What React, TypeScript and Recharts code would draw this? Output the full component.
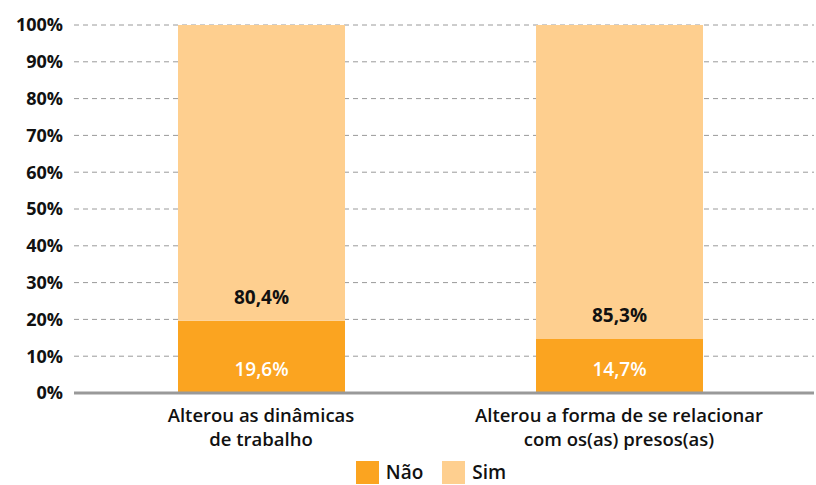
import React from 'react';
import { BarChart, Bar, XAxis, YAxis, CartesianGrid, Legend, LabelList } from 'recharts';

const categories = ['Alterou as dinâmicas|de trabalho', 'Alterou a forma de se relacionar|com os(as) presos(as)'];
const naoValues = [19.6, 14.7];
const simValues = [80.4, 85.3];
const yTicks = [0, 10, 20, 30, 40, 50, 60, 70, 80, 90, 100];

const NAO_COLOR = '#FBA420';
const SIM_COLOR = '#FECF8F';
const FONT = '"Open Sans", "Noto Sans", sans-serif';

const data = categories.map((name, i) => ({
  name,
  nao: naoValues[i],
  sim: simValues[i],
}));

const fmt = (v: number) => `${v.toFixed(1).replace('.', ',')}%`;

function CategoryTick(props: any) {
  const { x, y, payload } = props;
  const lines = String(payload.value).split('|');
  return (
    <g transform={`translate(${x},${y})`}>
      {lines.map((line, i) => (
        <text
          key={i}
          x={0}
          y={21 + i * 24}
          textAnchor="middle"
          fill="#111"
          fontSize={18.5}
          fontWeight={600}
          fontFamily={FONT}
        >
          {line}
        </text>
      ))}
    </g>
  );
}

// labels sit a fixed distance above the bottom of each segment
function SegmentLabel(color: string, weight: number) {
  return (props: any) => {
    const { x, y, width, height, value } = props;
    return (
      <text
        x={x + width / 2}
        y={y + height - 17}
        textAnchor="middle"
        fill={color}
        fontSize={19}
        fontWeight={weight}
        fontFamily={FONT}
      >
        {fmt(value)}
      </text>
    );
  };
}

function LegendContent() {
  const items = [
    { label: 'Não', color: NAO_COLOR },
    { label: 'Sim', color: SIM_COLOR },
  ];
  return (
    <div style={{ display: 'flex', justifyContent: 'center', gap: 19, paddingLeft: 48, fontFamily: FONT, fontSize: 19, fontWeight: 600, color: '#111' }}>
      {items.map((it) => (
        <div key={it.label} style={{ display: 'flex', alignItems: 'center' }}>
          <span style={{ display: 'inline-block', width: 23, height: 23, background: it.color, marginRight: 7 }} />
          <span>{it.label}</span>
        </div>
      ))}
    </div>
  );
}

export default function App() {
  return (
    <div style={{ position: 'absolute', left: 0, top: 0, background: '#fff' }}>
      <BarChart
        width={816}
        height={485}
        data={data}
        margin={{ top: 25, right: 2, bottom: 0, left: 0 }}
        barSize={167}
      >
        <CartesianGrid vertical={false} stroke="#9a9a9a" strokeDasharray="5 4" />
        <XAxis
          dataKey="name"
          tick={<CategoryTick />}
          tickLine={false}
          axisLine={{ stroke: '#999', strokeWidth: 3 }}
          padding={{ left: 8, right: 16 }}
          height={62}
          interval={0}
        />
        <YAxis
          domain={[0, 100]}
          ticks={yTicks}
          tickFormatter={(v: number) => `${v}%`}
          tickLine={false}
          axisLine={false}
          width={74}
          tickMargin={5}
          tick={{ fill: '#111', fontSize: 18, fontWeight: 700, fontFamily: FONT }}
        />
        <Legend verticalAlign="bottom" height={30} wrapperStyle={{ bottom: -4 }} content={<LegendContent />} />
        <Bar dataKey="nao" name="Não" stackId="a" fill={NAO_COLOR} isAnimationActive={false}>
          <LabelList dataKey="nao" content={SegmentLabel('#fff', 600)} />
        </Bar>
        <Bar dataKey="sim" name="Sim" stackId="a" fill={SIM_COLOR} isAnimationActive={false}>
          <LabelList dataKey="sim" content={SegmentLabel('#111', 700)} />
        </Bar>
      </BarChart>
    </div>
  );
}
